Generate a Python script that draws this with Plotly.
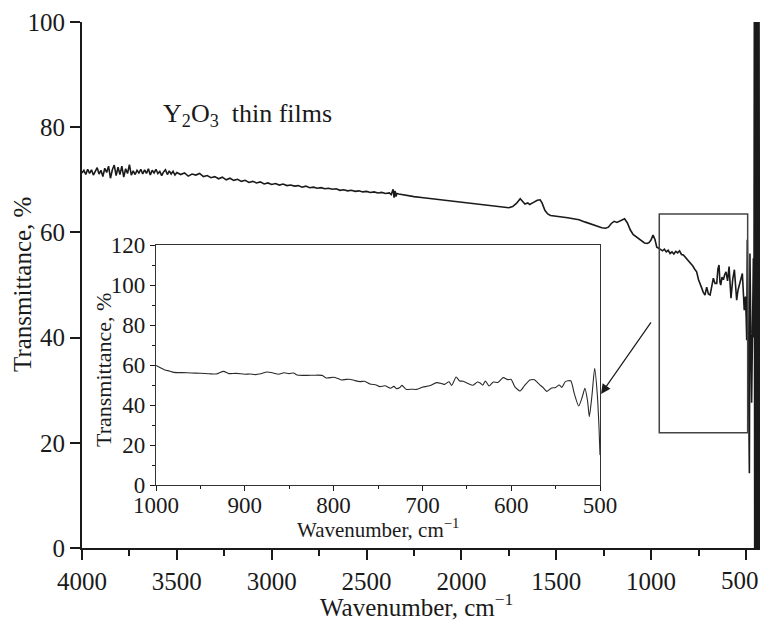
import plotly.graph_objects as go

# Main spectrum (wavenumber, cm-1 ; transmittance, %)
main_wn = [4000, 3990, 3980, 3970, 3960, 3950, 3940, 3930, 3920, 3910, 3900, 3890, 3880, 3870, 3860,
           3850, 3840, 3830, 3820, 3810, 3800, 3790, 3780, 3770, 3760, 3750, 3740, 3730, 3720, 3710,
           3700, 3690, 3680, 3670, 3660, 3650, 3640, 3630, 3620, 3610, 3600, 3590, 3580, 3570, 3560,
           3550, 3540, 3530, 3520, 3510, 3500, 3480, 3460, 3440, 3420, 3400, 3380, 3360, 3340, 3320,
           3300, 3280, 3260, 3240, 3220, 3200, 3180, 3160, 3140, 3120, 3100, 3080, 3060, 3040, 3020,
           3000, 2980, 2960, 2940, 2920, 2900, 2880, 2860, 2840, 2820, 2800, 2780, 2760, 2740, 2720,
           2700, 2680, 2660, 2640, 2620, 2600, 2580, 2560, 2540, 2520, 2500, 2480, 2460, 2440, 2420,
           2400, 2380, 2370, 2360, 2355, 2350, 2345, 2340, 2330, 2300, 2250, 2200, 2150, 2100, 2050,
           2000, 1950, 1900, 1850, 1800, 1770, 1750, 1730, 1710, 1690, 1680, 1665, 1650, 1640, 1620,
           1600, 1585, 1575, 1560, 1545, 1530, 1500, 1470, 1440, 1410, 1380, 1350, 1320, 1290, 1260,
           1240, 1225, 1210, 1195, 1180, 1165, 1150, 1140, 1125, 1110, 1095, 1080, 1065, 1050, 1035,
           1020, 1010, 1000, 990, 980, 970, 960, 950, 940, 930, 920, 910, 900, 890, 880,
           870, 860, 850, 840, 830, 820, 810, 800, 790, 780, 770, 760, 750, 740, 733,
           725, 716, 707, 698, 689, 680, 672, 663, 654, 648, 642, 637, 633, 626, 619,
           612, 605, 597, 589, 579, 570, 561, 549, 542, 535, 527, 519, 509, 503, 499,
           496, 493, 488, 482, 479, 470, 461, 458,
           456, 454, 452, 450, 448, 446, 443, 440, 437, 434, 431, 428]
main_t = [71.3, 71.8, 71.0, 72.0, 71.2, 71.9, 70.9, 71.6, 72.3, 71.1, 71.8, 70.6, 72.2, 71.4, 72.6,
          70.3, 71.9, 72.8, 70.8, 72.4, 71.0, 72.6, 70.5, 72.1, 71.2, 72.9, 70.9, 71.7, 71.0, 71.8,
          71.3, 72.0, 71.1, 71.9, 71.2, 72.1, 70.9, 71.8, 71.3, 72.0, 71.2, 71.6, 70.8, 71.5, 71.9,
          71.0, 71.7, 71.1, 71.6, 70.9, 71.4, 71.0, 71.3, 70.7, 71.1, 70.9, 71.2, 70.6, 70.8, 70.4,
          70.6, 70.2, 70.5, 70.0, 70.3, 69.9, 70.1, 69.7, 69.9, 69.5, 69.7, 69.4, 69.6, 69.2, 69.4,
          69.1, 69.3, 69.0, 69.2, 68.9, 69.0, 68.8, 68.9, 68.6, 68.8, 68.5, 68.6, 68.4, 68.5, 68.3,
          68.4, 68.2, 68.3, 68.0, 68.1, 67.9, 68.0, 67.8, 67.9, 67.7, 67.8, 67.6, 67.7, 67.5, 67.6,
          67.4, 67.5, 67.2, 68.2, 66.6, 67.9, 66.8, 67.4, 67.3, 67.1, 66.8, 66.6, 66.4, 66.1, 65.9,
          65.7, 65.5, 65.3, 65.1, 64.9, 64.8, 64.7, 64.9, 65.5, 66.4, 66.0, 65.4, 65.6, 65.3, 65.7,
          66.1, 66.2, 65.6, 64.2, 63.5, 63.2, 63.1, 62.9, 62.8, 62.6, 62.4, 62.0, 61.6, 61.2, 60.9,
          60.8, 61.0, 61.7, 62.1, 61.9, 62.2, 62.4, 62.6, 61.8, 60.5, 59.6, 59.2, 58.7, 58.3, 58.0,
          57.9, 58.1, 58.6, 59.5, 58.7, 57.2, 57.0, 56.7, 56.5, 56.8, 56.3, 56.6, 56.0, 56.3, 55.9,
          56.4, 56.1, 56.5, 55.8, 55.7, 55.3, 55.0, 54.6, 54.2, 53.6, 53.0, 52.5, 51.0, 49.8, 49.4,
          48.6, 48.1, 49.6, 48.3, 48.1, 50.1, 51.3, 50.3, 50.3, 53.0, 53.8, 50.5, 50.0, 51.5, 51.0,
          52.0, 52.5, 50.8, 53.5, 47.5, 51.0, 52.9, 47.1, 49.0, 50.0, 51.4, 52.2, 45.2, 47.8, 44.0,
          39.5, 58.6, 33.8, 14.2, 56.0, 27.6, 55.1, 40.0,
          100, 0, 100, 0, 100, 0, 100, 0, 100, 0, 100, 0]

# Inset spectrum (1000-500 cm-1)
inset_wn = [1000, 995, 990, 985, 980, 970, 960, 950, 940, 932, 924, 918, 910, 900, 894,
            888, 882, 875, 868, 862, 856, 850, 845, 841, 830, 822, 813, 808, 800, 795,
            791, 786, 782, 776, 770, 765, 759, 752, 748, 742, 736, 732, 729, 725, 723,
            718, 712, 707, 700, 692, 684, 678, 675, 670, 667, 662, 658, 654, 648, 643,
            638, 635, 632, 629, 625, 620, 615, 609, 604, 600, 596, 590, 585, 579, 574,
            568, 564, 560, 555, 550, 546, 543, 539, 533, 529, 524, 520, 517, 514, 512,
            509, 506, 503, 501, 500]
inset_t = [59.8, 58.6, 57.5, 57.0, 56.3, 56.2, 56.0, 55.9, 55.6, 55.5, 56.8, 55.7, 55.8, 55.4, 55.5,
           55.2, 55.6, 56.5, 56.0, 55.4, 56.1, 55.7, 56.0, 55.0, 54.8, 54.9, 54.8, 53.5, 53.9, 53.2,
           52.5, 52.8, 52.9, 52.2, 51.7, 51.9, 50.5, 50.0, 49.2, 49.6, 48.4, 49.3, 48.2, 48.9, 49.8,
           47.8, 47.9, 47.8, 48.9, 49.6, 51.2, 50.7, 50.3, 51.6, 49.8, 54.0, 52.0, 51.9, 50.6, 49.9,
           51.5, 51.0, 49.9, 52.0, 49.5, 51.5, 51.3, 53.7, 52.7, 52.8, 49.2, 47.0, 49.7, 52.5, 52.6,
           50.2, 48.7, 46.8, 48.4, 48.8, 50.0, 48.8, 51.7, 52.1, 45.8, 39.5, 44.0, 48.3, 42.0, 34.2,
           45.0, 58.3, 45.0, 27.5, 15.0]

main_xticks = [4000, 3500, 3000, 2500, 2000, 1500, 1000, 500]
main_yticks = [0, 20, 40, 60, 80, 100]
inset_xticks = [1000, 900, 800, 700, 600, 500]
inset_yticks = [0, 20, 40, 60, 80, 100, 120]

FONT = "Liberation Serif, Times New Roman, serif"
INK = "#1a1a1a"

fig = go.Figure()
fig.add_trace(go.Scatter(x=main_wn, y=main_t, mode="lines",
                         line=dict(color=INK, width=1.6),
                         xaxis="x", yaxis="y", showlegend=False, hoverinfo="skip"))
fig.add_trace(go.Scatter(x=inset_wn, y=inset_t, mode="lines",
                         line=dict(color="#2a2a2a", width=1.1, shape="spline", smoothing=0.6),
                         xaxis="x2", yaxis="y2", showlegend=False, hoverinfo="skip"))

L, R, T, B = 82, 0, 22, 79
W, H = 760, 627
pw = W - L - R
ph = H - T - B
# inset position in pixels
ix0, ix1, iy0, iy1 = 156, 600, 245, 485


def px_to_paper_x(px):
    return (px - L) / pw


def px_to_paper_y(py):
    return (H - B - py) / ph


# the last main tick label sits at the page edge; it is drawn as an annotation
main_xticktext = [str(v) for v in main_xticks[:-1]] + [""]

fig.update_layout(
    width=W, height=H,
    margin=dict(l=L, r=R, t=T, b=B, pad=0, autoexpand=False),
    paper_bgcolor="white", plot_bgcolor="white",
    font=dict(family=FONT, size=25, color=INK),
    xaxis=dict(range=[4000, 426], tickvals=main_xticks, ticktext=main_xticktext,
               ticks="outside", ticklen=10, tickwidth=2, tickcolor=INK, automargin=False,
               minor=dict(tickvals=[3750, 3250, 2750, 2250, 1750, 1250, 750], ticks="outside",
                          ticklen=6, tickwidth=1.5, tickcolor=INK),
               showline=True, linewidth=2, linecolor=INK, mirror=False,
               showgrid=False, zeroline=False,
               tickfont=dict(size=25, family=FONT)),
    yaxis=dict(range=[0, 100], tickvals=main_yticks, automargin=False,
               ticks="outside", ticklen=10, tickwidth=2, tickcolor=INK,
               showline=True, linewidth=2, linecolor=INK,
               showgrid=False, zeroline=False,
               tickfont=dict(size=25, family=FONT)),
    xaxis2=dict(domain=[px_to_paper_x(ix0), px_to_paper_x(ix1)], anchor="y2",
                range=[1000, 500], tickvals=inset_xticks, automargin=False,
                ticks="outside", ticklen=5, tickwidth=1.2, tickcolor=INK,
                ticklabelstandoff=-6,
                minor=dict(tickvals=[950, 850, 750, 650, 550], ticks="outside", ticklen=3,
                           tickwidth=1, tickcolor=INK),
                showline=True, linewidth=1.3, linecolor="#333333", mirror=True,
                showgrid=False, zeroline=False,
                tickfont=dict(size=23, family=FONT)),
    yaxis2=dict(domain=[px_to_paper_y(iy1), px_to_paper_y(iy0)], anchor="x2",
                range=[0, 120], tickvals=inset_yticks, automargin=False,
                ticks="outside", ticklen=5, tickwidth=1.2, tickcolor=INK,
                minor=dict(tickvals=[10, 30, 50, 70, 90, 110], ticks="outside", ticklen=3,
                           tickwidth=1, tickcolor=INK),
                showline=True, linewidth=1.3, linecolor="#333333", mirror=True,
                showgrid=False, zeroline=False,
                tickfont=dict(size=23, family=FONT)),
)

# last main x tick label
fig.add_annotation(xref="paper", yref="paper", x=px_to_paper_x(740), y=px_to_paper_y(580),
                   text=str(main_xticks[-1]), showarrow=False,
                   xanchor="center", yanchor="middle", font=dict(size=25, family=FONT, color=INK))

# axis titles as annotations for precise placement
fig.add_annotation(xref="paper", yref="paper", x=px_to_paper_x(416), y=px_to_paper_y(605),
                   text="Wavenumber, cm<sup>−1</sup>", showarrow=False,
                   xanchor="center", yanchor="middle", font=dict(size=25, family=FONT, color=INK))
fig.add_annotation(xref="paper", yref="paper", x=px_to_paper_x(22), y=px_to_paper_y(285),
                   text="Transmittance, %", showarrow=False, textangle=-90,
                   xanchor="center", yanchor="middle", font=dict(size=25, family=FONT, color=INK))
fig.add_annotation(xref="paper", yref="paper", x=px_to_paper_x(378), y=px_to_paper_y(528),
                   text="Wavenumber, cm<sup>−1</sup>", showarrow=False,
                   xanchor="center", yanchor="middle", font=dict(size=21, family=FONT, color=INK))
fig.add_annotation(xref="paper", yref="paper", x=px_to_paper_x(103), y=px_to_paper_y(370),
                   text="Transmittance, %", showarrow=False, textangle=-90,
                   xanchor="center", yanchor="middle", font=dict(size=22, family=FONT, color=INK))

# zoom box on main plot
fig.add_shape(type="rect", xref="x", yref="y", x0=957, x1=491, y0=21.9, y1=63.5,
              line=dict(color="#444444", width=1.5), fillcolor="rgba(0,0,0,0)")

# arrow from box to inset
fig.add_annotation(xref="x", yref="y", x=1264, y=29.3, ax=51, ay=-73, text="",
                   showarrow=True, arrowhead=2, arrowsize=1.6, arrowwidth=1.2, arrowcolor=INK)

# label
fig.add_annotation(xref="paper", yref="paper", x=px_to_paper_x(161), y=px_to_paper_y(127),
                   xanchor="left", yanchor="bottom", yshift=-6,
                   text="Y<sub>2</sub>O<sub>3</sub>  thin films", showarrow=False,
                   font=dict(size=26, family=FONT, color=INK))

fig.write_html("out.html")
